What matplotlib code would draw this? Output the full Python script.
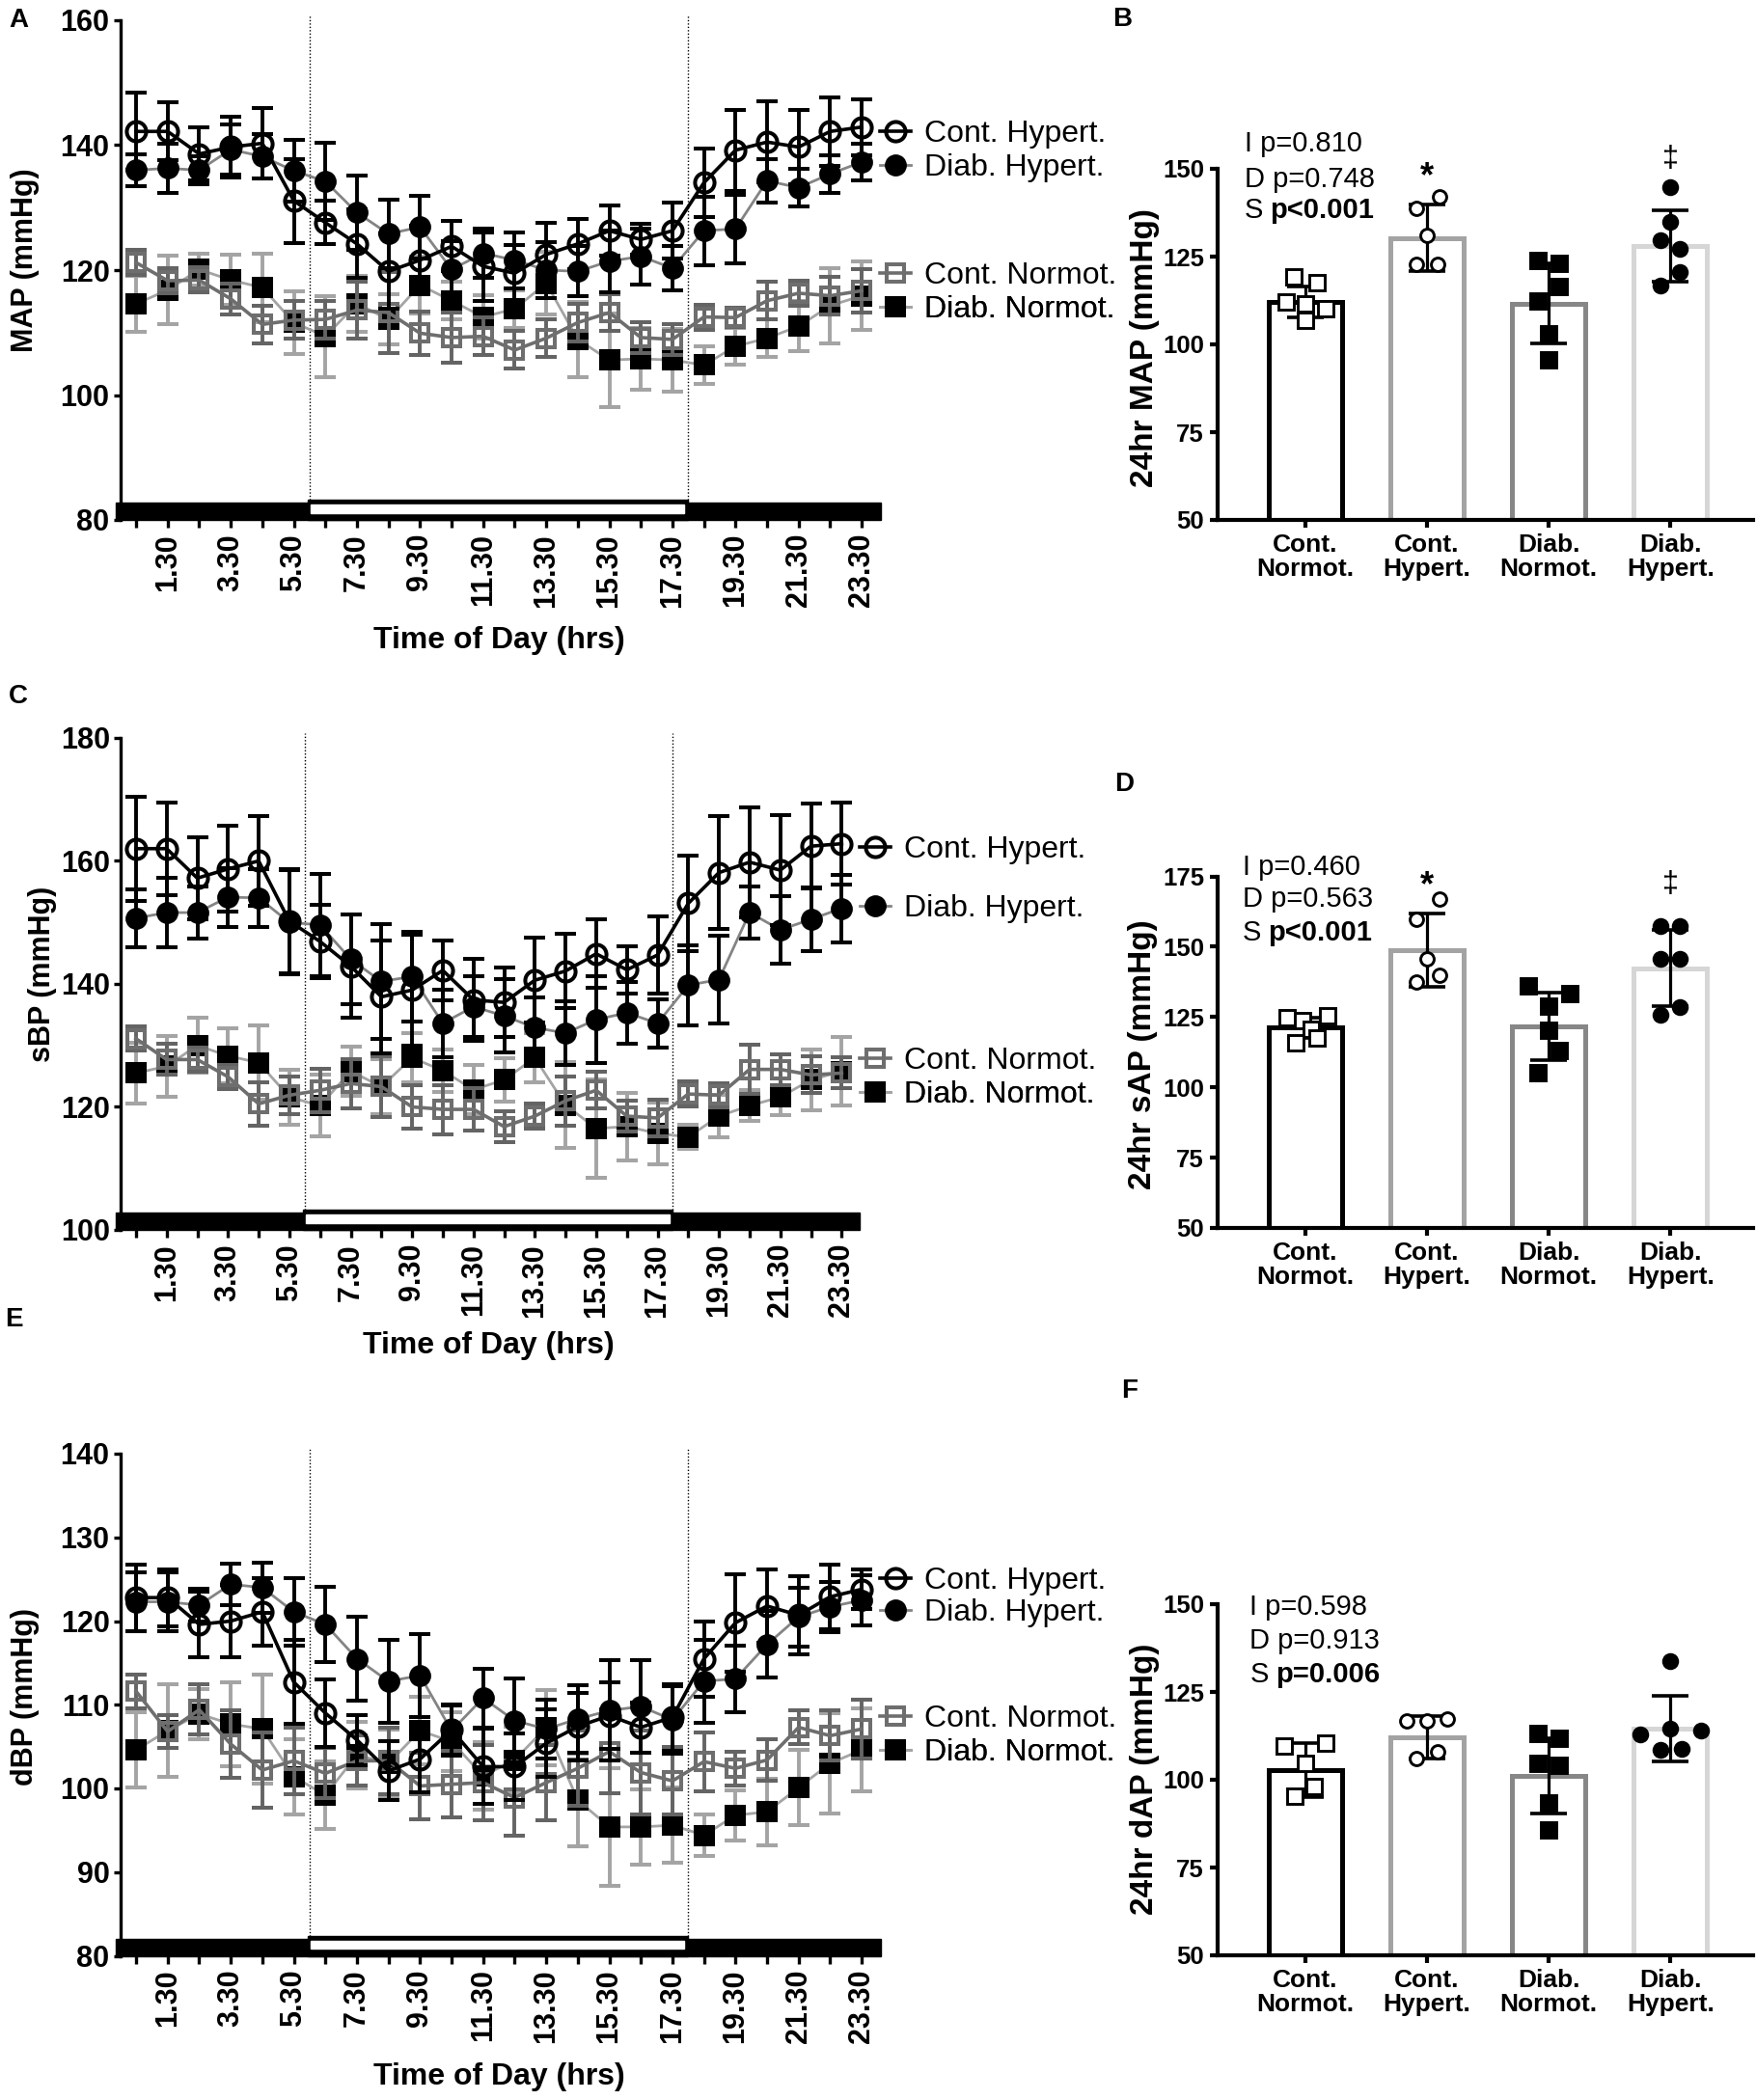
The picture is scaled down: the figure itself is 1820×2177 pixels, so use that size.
import numpy as np
import matplotlib
matplotlib.use('Agg')
import matplotlib.pyplot as plt
from matplotlib.lines import Line2D
from matplotlib.patches import Rectangle

plt.rcParams['font.family'] = ['Liberation Sans', 'DejaVu Sans']

# ---- time course data (hourly means, x = 0.30 ... 23.30) ----
hours = np.arange(24) + 0.5
hour_labels = ['%d.30' % h if h % 2 == 1 else '' for h in range(24)]

map_ch = [142.2, 142.2, 138.6, 139.7, 140.3, 131.1, 127.6, 124.2, 119.8, 121.6, 123.8, 120.6,
          119.5, 122.5, 124.2, 126.3, 124.9, 126.3, 134.0, 139.2, 140.5, 139.7, 142.2, 142.9]
map_dh = [136.0, 136.3, 136.0, 139.3, 138.2, 135.9, 134.2, 129.2, 125.8, 126.9, 120.1, 122.7,
          121.6, 120.0, 119.8, 121.4, 122.2, 120.3, 126.3, 126.6, 134.3, 133.2, 135.4, 137.3]
map_cn = [121.2, 118.3, 118.4, 115.4, 111.3, 112.0, 112.1, 113.6, 113.2, 109.9, 109.2, 109.4,
          107.2, 109.1, 111.6, 113.2, 109.2, 108.9, 112.5, 112.4, 115.1, 116.3, 115.9, 116.7]
map_dn = [114.6, 116.8, 120.1, 118.4, 117.2, 111.6, 109.4, 114.6, 112.1, 117.6, 115.1, 112.5,
          113.8, 117.9, 108.9, 105.6, 105.8, 105.6, 104.8, 107.8, 109.1, 111.0, 114.3, 115.9]
map_ch_sd = [6.2, 4.6, 4.3, 4.9, 5.6, 6.7, 3.5, 5.5, 6.0, 5.5, 4.0, 5.5, 4.5, 5.0, 4.0, 4.0, 2.5, 4.5, 5.5, 6.5, 6.5, 6.0, 5.5, 4.5]
map_dh_sd = [2.5, 4.0, 2.3, 4.0, 3.5, 5.0, 6.2, 6.0, 5.5, 5.0, 4.5, 4.0, 4.5, 4.5, 4.0, 5.0, 4.5, 3.5, 5.5, 5.5, 3.5, 3.0, 3.0, 3.0]
map_cn_sd = [2.0, 2.0, 2.0, 2.5, 3.0, 3.0, 3.0, 4.5, 6.5, 3.5, 4.0, 3.0, 3.0, 3.0, 3.0, 3.0, 2.5, 2.5, 2.0, 1.5, 3.0, 2.0, 3.0, 3.5]
map_dn_sd = [4.5, 5.5, 2.5, 4.0, 5.5, 5.0, 6.5, 4.5, 4.0, 4.5, 3.0, 3.5, 3.0, 5.0, 6.0, 7.5, 5.0, 5.0, 3.0, 3.0, 3.0, 4.0, 6.0, 5.5]

sbp_ch = [162.0, 162.0, 157.2, 158.7, 160.0, 150.2, 146.9, 142.9, 137.9, 139.0, 142.2, 137.4,
          137.0, 140.6, 142.1, 144.9, 142.3, 144.7, 153.1, 158.1, 159.8, 158.5, 162.4, 162.8]
sbp_dh = [150.7, 151.6, 151.6, 154.1, 154.0, 150.0, 149.6, 144.0, 140.4, 141.2, 133.6, 136.3,
          134.8, 132.9, 132.0, 134.2, 135.3, 133.6, 139.8, 140.7, 151.6, 148.8, 150.5, 152.3]
sbp_cn = [131.1, 127.7, 127.7, 124.9, 120.5, 121.9, 122.7, 123.8, 123.3, 120.0, 119.6, 119.6,
          116.8, 118.5, 121.0, 122.7, 118.5, 118.2, 122.1, 121.9, 126.1, 126.1, 125.2, 125.5]
sbp_dn = [125.5, 126.6, 130.0, 128.3, 127.2, 121.6, 120.2, 125.8, 123.3, 128.0, 125.9, 122.8,
          124.4, 128.0, 120.3, 116.5, 116.8, 115.7, 115.1, 118.5, 120.2, 121.6, 124.4, 125.8]
sbp_ch_sd = [8.5, 7.5, 6.7, 7.0, 7.3, 8.5, 6.0, 8.4, 9.2, 9.0, 4.9, 6.7, 5.6, 6.9, 6.1, 5.6, 3.8, 6.3, 7.7, 9.2, 8.9, 9.0, 6.9, 6.7]
sbp_dh_sd = [4.7, 5.6, 4.3, 4.8, 4.7, 8.5, 8.3, 7.3, 9.3, 7.3, 5.5, 5.0, 6.0, 4.9, 5.1, 7.0, 5.0, 3.9, 6.5, 7.1, 4.2, 5.5, 5.2, 5.5]
sbp_cn_sd = [2.0, 2.5, 2.0, 2.0, 3.5, 3.0, 3.5, 4.0, 5.0, 3.5, 4.0, 3.5, 2.5, 2.0, 4.0, 3.0, 2.5, 3.0, 2.0, 2.0, 4.0, 2.5, 3.0, 2.5]
sbp_dn_sd = [5.0, 5.0, 4.5, 4.5, 6.0, 4.5, 5.0, 4.0, 4.5, 4.0, 3.5, 4.0, 3.5, 4.0, 7.0, 8.0, 5.5, 5.0, 2.0, 3.5, 2.5, 3.0, 5.0, 5.5]

dbp_ch = [122.8, 122.8, 119.6, 120.0, 121.1, 112.7, 109.0, 105.8, 102.1, 103.5, 107.0, 102.6,
          102.6, 105.4, 107.4, 108.7, 107.3, 108.5, 115.5, 119.8, 121.8, 120.7, 122.9, 123.8]
dbp_dh = [122.3, 122.3, 121.9, 124.4, 124.0, 121.1, 119.6, 115.5, 112.8, 113.5, 106.9, 110.8,
          108.1, 107.1, 108.3, 109.3, 109.8, 108.2, 112.8, 113.1, 117.2, 120.5, 121.7, 122.5]
dbp_cn = [111.6, 106.8, 109.4, 105.3, 102.2, 103.3, 101.8, 103.3, 103.3, 100.3, 100.5, 100.7,
          98.9, 100.7, 102.4, 104.4, 101.9, 100.9, 103.2, 102.4, 103.4, 107.3, 106.3, 107.1]
dbp_dn = [104.6, 106.9, 108.9, 107.7, 107.1, 101.4, 99.2, 104.0, 103.0, 106.9, 105.6, 101.5,
          103.4, 107.3, 98.6, 95.4, 95.4, 95.6, 94.4, 96.8, 97.2, 100.1, 103.0, 104.6]
dbp_ch_sd = [4.0, 3.4, 3.9, 4.3, 4.0, 5.0, 4.0, 3.0, 3.5, 4.0, 3.0, 4.5, 4.0, 4.0, 4.0, 4.0, 3.0, 4.0, 4.5, 5.8, 4.4, 4.7, 3.9, 2.4]
dbp_dh_sd = [3.5, 3.5, 2.0, 2.5, 3.0, 4.0, 4.5, 5.0, 5.0, 5.0, 3.0, 3.5, 5.0, 3.5, 4.0, 6.0, 5.5, 4.0, 5.0, 4.0, 4.0, 3.5, 3.0, 3.0]
dbp_cn_sd = [2.0, 2.0, 3.0, 4.0, 4.5, 4.0, 3.0, 3.0, 4.0, 4.0, 4.0, 4.5, 4.5, 4.5, 4.5, 5.0, 5.0, 4.0, 3.5, 2.0, 2.5, 2.0, 3.0, 3.5]
dbp_dn_sd = [4.5, 5.5, 3.0, 5.0, 6.5, 4.5, 4.0, 4.0, 4.0, 4.0, 3.5, 4.0, 4.0, 4.5, 5.5, 7.0, 4.5, 4.5, 2.5, 3.0, 4.0, 4.5, 6.0, 5.0]

# ---- 24 h averages (bar panels) ----
groups = ['Cont.\nNormot.', 'Cont.\nHypert.', 'Diab.\nNormot.', 'Diab.\nHypert.']

map24_mean = [112.1, 130.3, 111.6, 128.1]
map24_sd = [4.5, 9.5, 11.4, 10.2]
map24_pts = [[119.1, 117.5, 112.0, 110.2, 106.8, 111.5],
             [141.9, 138.6, 131.0, 122.7, 122.7],
             [124.0, 123.1, 116.6, 112.4, 103.1, 95.6],
             [144.7, 134.9, 129.6, 127.1, 120.7, 116.7]]

sap24_mean = [121.2, 148.7, 121.7, 142.4]
sap24_sd = [3.5, 13.0, 12.0, 13.4]
sap24_pts = [[124.6, 123.8, 125.3, 120.8, 117.6, 115.7],
             [166.9, 159.8, 145.6, 139.8, 137.3],
             [136.0, 133.5, 128.8, 120.4, 113.2, 105.1],
             [157.4, 157.4, 145.6, 145.6, 128.4, 125.9]]

dap24_mean = [102.7, 112.1, 101.2, 114.5]
dap24_sd = [7.7, 6.0, 10.7, 9.3]
dap24_pts = [[110.4, 109.5, 104.8, 98.2, 95.2],
             [117.3, 116.7, 116.7, 108.1, 106.0],
             [113.3, 111.7, 104.8, 104.2, 93.5, 85.7],
             [133.7, 114.5, 114.0, 112.9, 108.9, 108.6]]

# horizontal scatter of the dots inside each bar (layout only)
map24_jit = [[-0.09, 0.10, -0.16, 0.17, 0.0, 0.0], [0.10, -0.085, 0.0, -0.085, 0.085],
             [-0.085, 0.09, 0.09, -0.085, 0.0, 0.0], [0.0, 0.0, -0.08, 0.08, 0.08, -0.08]]
sap24_jit = [[-0.15, -0.02, 0.18, 0.05, 0.10, -0.08], [0.10, -0.085, 0.0, 0.10, -0.085],
             [-0.17, 0.17, 0.0, 0.0, 0.09, -0.085], [-0.08, 0.08, -0.08, 0.08, 0.08, -0.08]]
dap24_jit = [[0.17, -0.17, 0.0, 0.07, -0.085], [0.17, -0.17, 0.0, 0.085, -0.085],
             [-0.085, 0.09, -0.085, 0.09, 0.0, 0.0], [0.0, 0.0, 0.25, -0.25, 0.09, -0.08]]

map_stats = ['0.810', '0.748', 'p<0.001']
sap_stats = ['0.460', '0.563', 'p<0.001']
dap_stats = ['0.598', '0.913', 'p=0.006']

# ---- styles ----
W, H = 1820, 2177
STY = {
    'ch': dict(color='black', lw=2.6, marker='o', mfc='none', mec='black', ecolor='black', ms=14.5),
    'dh': dict(color='#848484', lw=2.0, marker='o', mfc='black', mec='black', ecolor='black', ms=13.5),
    'cn': dict(color='#6e6e6e', lw=2.6, marker='s', mfc='none', mec='#6e6e6e', ecolor='#646464', ms=13.5),
    'dn': dict(color='#a4a4a4', lw=2.0, marker='s', mfc='black', mec='black', ecolor='#a4a4a4', ms=13.5),
}
NAMES = {'ch': 'Cont. Hypert.', 'dh': 'Diab. Hypert.', 'cn': 'Cont. Normot.', 'dn': 'Diab. Normot.'}
BAR_EDGE = ['black', '#a3a3a3', '#878787', '#d6d6d6']
DOT = [dict(marker='s', mfc='white', ms=11), dict(marker='o', mfc='white', ms=10),
       dict(marker='s', mfc='black', ms=11), dict(marker='o', mfc='black', ms=10.5)]

fig = plt.figure(figsize=(W / 100, H / 100), dpi=100)


def px_axes(left, top, right, bottom):
    return fig.add_axes([left / W, 1 - bottom / H, (right - left) / W, (bottom - top) / H])


def time_panel(ax, means, sds, ylim, yticks, ylabel, ylab_xy, xlab_xy, key_y, h_px):
    for i, key in enumerate(['dn', 'cn', 'dh', 'ch']):
        s = STY[key]
        ax.errorbar(hours, means[key], yerr=sds[key], color=s['color'], lw=s['lw'],
                    marker=s['marker'], ms=s['ms'], mfc=s['mfc'], mec=s['mec'], mew=2.9,
                    ecolor=s['ecolor'], elinewidth=2.8, capsize=8, capthick=3.2,
                    zorder=2 + i, clip_on=False)
    ax.set_xlim(0, 24.2)
    ax.set_ylim(*ylim)
    ax.set_yticks(yticks)
    ax.set_xticks(hours)
    ax.set_xticklabels(hour_labels, rotation=90, fontsize=22, fontweight='bold')
    for t in ax.get_yticklabels():
        t.set_fontsize(22)
        t.set_fontweight('bold')
    for sp in ['top', 'right', 'bottom']:
        ax.spines[sp].set_visible(False)
    ax.spines['left'].set_linewidth(2.4)
    ax.tick_params(axis='y', width=2.4, length=5, pad=3)
    ax.tick_params(axis='x', width=2.4, length=6, pad=4)
    ax.set_ylabel(ylabel, fontsize=22, fontweight='bold')
    ax.yaxis.set_label_coords(*ylab_xy)
    ax.set_xlabel('Time of Day (hrs)', fontsize=23, fontweight='bold')
    ax.xaxis.set_label_coords(*xlab_xy)

    # light / dark bar along the time axis
    y0 = ylim[0]
    h = h_px / ax.bbox.height * (ylim[1] - ylim[0])
    ax.add_patch(Rectangle((-0.15, y0), 24.25, h, color='black', clip_on=False, zorder=10))
    ax.add_patch(Rectangle((5.94, y0), 12.06, h * 1.15, color='black', clip_on=False, zorder=10))
    ax.add_patch(Rectangle((6.03, y0 + h * 0.41), 11.85, h * 0.46, color='white',
                           clip_on=False, zorder=11))
    for xv in [6, 18]:
        ax.axvline(xv, ymin=0, ymax=1.01, color='black', lw=1, ls=(0, (1, 1.5)),
                   clip_on=False, zorder=1)

    # keys placed beside the line ends
    for key, yk in zip(['ch', 'dh', 'cn', 'dn'], key_y):
        s = STY[key]
        hd = Line2D([], [], color=s['color'], lw=s['lw'], marker=s['marker'], ms=s['ms'],
                    mfc=s['mfc'], mec=s['mec'], mew=2.9)
        leg = ax.legend([hd], [NAMES[key]], loc='center left', bbox_to_anchor=(0.995, yk),
                        frameon=False, fontsize=23, handlelength=1.0, handletextpad=0.45,
                        borderpad=0, borderaxespad=0)
        ax.add_artist(leg)


def bar_panel(ax, means, sds, pts, jit, ylim, yticks, ylabel, ylab_xy, stats, stat_x, stat_y,
              marks):
    pos = np.arange(4)
    ax.bar(pos, np.array(means) - ylim[0], bottom=ylim[0], width=0.6, color='white',
           edgecolor=BAR_EDGE, linewidth=3.6, zorder=1)
    ax.errorbar(pos, means, yerr=sds, fmt='none', ecolor='black', elinewidth=2.3,
                capsize=14, capthick=2.6, zorder=3)
    for i in range(4):
        d = DOT[i]
        ax.plot(pos[i] + np.array(jit[i]), pts[i], ls='none', marker=d['marker'], ms=d['ms'],
                mfc=d['mfc'], mec='black', mew=2.1, zorder=4, clip_on=False)
    ax.set_xlim(-0.72, 3.68)
    ax.set_ylim(*ylim)
    ax.set_yticks(yticks)
    ax.set_xticks(pos)
    ax.set_xticklabels(groups, fontsize=19, fontweight='bold', linespacing=1.05)
    for t in ax.get_yticklabels():
        t.set_fontsize(18.5)
        t.set_fontweight('bold')
    for sp in ['top', 'right']:
        ax.spines[sp].set_visible(False)
    for sp in ['left', 'bottom']:
        ax.spines[sp].set_linewidth(3)
    ax.tick_params(width=3, length=6, pad=4)
    ax.set_ylabel(ylabel, fontsize=24, fontweight='bold')
    ax.yaxis.set_label_coords(*ylab_xy)

    ax.text(stat_x, stat_y[0], 'I p=' + stats[0], transform=ax.transAxes, fontsize=21,
            va='center')
    ax.text(stat_x, stat_y[1], 'D p=' + stats[1], transform=ax.transAxes, fontsize=21,
            va='center')
    s_txt = ax.text(stat_x, stat_y[2], 'S', transform=ax.transAxes, fontsize=21, va='center')
    ax.annotate(stats[2], xy=(1, 0), xycoords=s_txt, xytext=(5, 0), textcoords='offset points',
                ha='left', va='bottom', fontsize=21, fontweight='bold')
    for xm, ym, sym in marks:
        ax.text(xm, ym, sym, ha='center', va='center',
                fontsize=26 if sym == '*' else 22, fontweight='bold' if sym == '*' else 'normal')


# ---- panels ----
axA = px_axes(124.7, 21, 916, 539)
time_panel(axA, dict(ch=map_ch, dh=map_dh, cn=map_cn, dn=map_dn),
           dict(ch=map_ch_sd, dh=map_dh_sd, cn=map_cn_sd, dn=map_dn_sd),
           (80, 160), [80, 100, 120, 140, 160], 'MAP (mmHg)', (-0.106, 0.52), (0.496, -0.212),
           [0.772, 0.705, 0.488, 0.421], 18)

axC = px_axes(125, 765, 894.6, 1275)
time_panel(axC, dict(ch=sbp_ch, dh=sbp_dh, cn=sbp_cn, dn=sbp_dn),
           dict(ch=sbp_ch_sd, dh=sbp_dh_sd, cn=sbp_cn_sd, dn=sbp_dn_sd),
           (100, 180), [100, 120, 140, 160, 180], 'sBP (mmHg)', (-0.086, 0.52), (0.496, -0.206),
           [0.773, 0.653, 0.343, 0.275], 18)

axE = px_axes(124.7, 1507, 916, 2027.5)
time_panel(axE, dict(ch=dbp_ch, dh=dbp_dh, cn=dbp_cn, dn=dbp_dn),
           dict(ch=dbp_ch_sd, dh=dbp_dh_sd, cn=dbp_cn_sd, dn=dbp_dn_sd),
           (80, 140), [80, 90, 100, 110, 120, 130, 140], 'dBP (mmHg)', (-0.106, 0.516),
           (0.496, -0.212), [0.746, 0.683, 0.472, 0.405], 18)

axB = px_axes(1262, 175, 1817, 539)
bar_panel(axB, map24_mean, map24_sd, map24_pts, map24_jit, (50, 150), [50, 75, 100, 125, 150],
          '24hr MAP (mmHg)', (-0.108, 0.49), map_stats, 0.05, [1.071, 0.97, 0.882],
          [(1, 147.5, '*'), (3, 152.7, '\u2021')])

axD = px_axes(1262, 908.5, 1817, 1273)
bar_panel(axD, sap24_mean, sap24_sd, sap24_pts, sap24_jit, (50, 175),
          [50, 75, 100, 125, 150, 175], '24hr sAP (mmHg)', (-0.112, 0.494), sap_stats, 0.047,
          [1.027, 0.936, 0.84], [(1, 171.5, '*'), (3, 172.1, '\u2021')])

axF = px_axes(1262, 1663, 1817, 2027)
bar_panel(axF, dap24_mean, dap24_sd, dap24_pts, dap24_jit, (50, 150), [50, 75, 100, 125, 150],
          '24hr dAP (mmHg)', (-0.108, 0.503), dap_stats, 0.06, [0.992, 0.896, 0.80], [])

for lab, x, y in [('A', 19, 21), ('B', 1163, 20), ('C', 19, 722), ('D', 1165, 813),
                  ('E', 14, 1368), ('F', 1171, 1442)]:
    fig.text(x / W, 1 - y / H, lab, fontsize=20, fontweight='bold', ha='center', va='center')

fig.savefig('out.png', dpi=100)
